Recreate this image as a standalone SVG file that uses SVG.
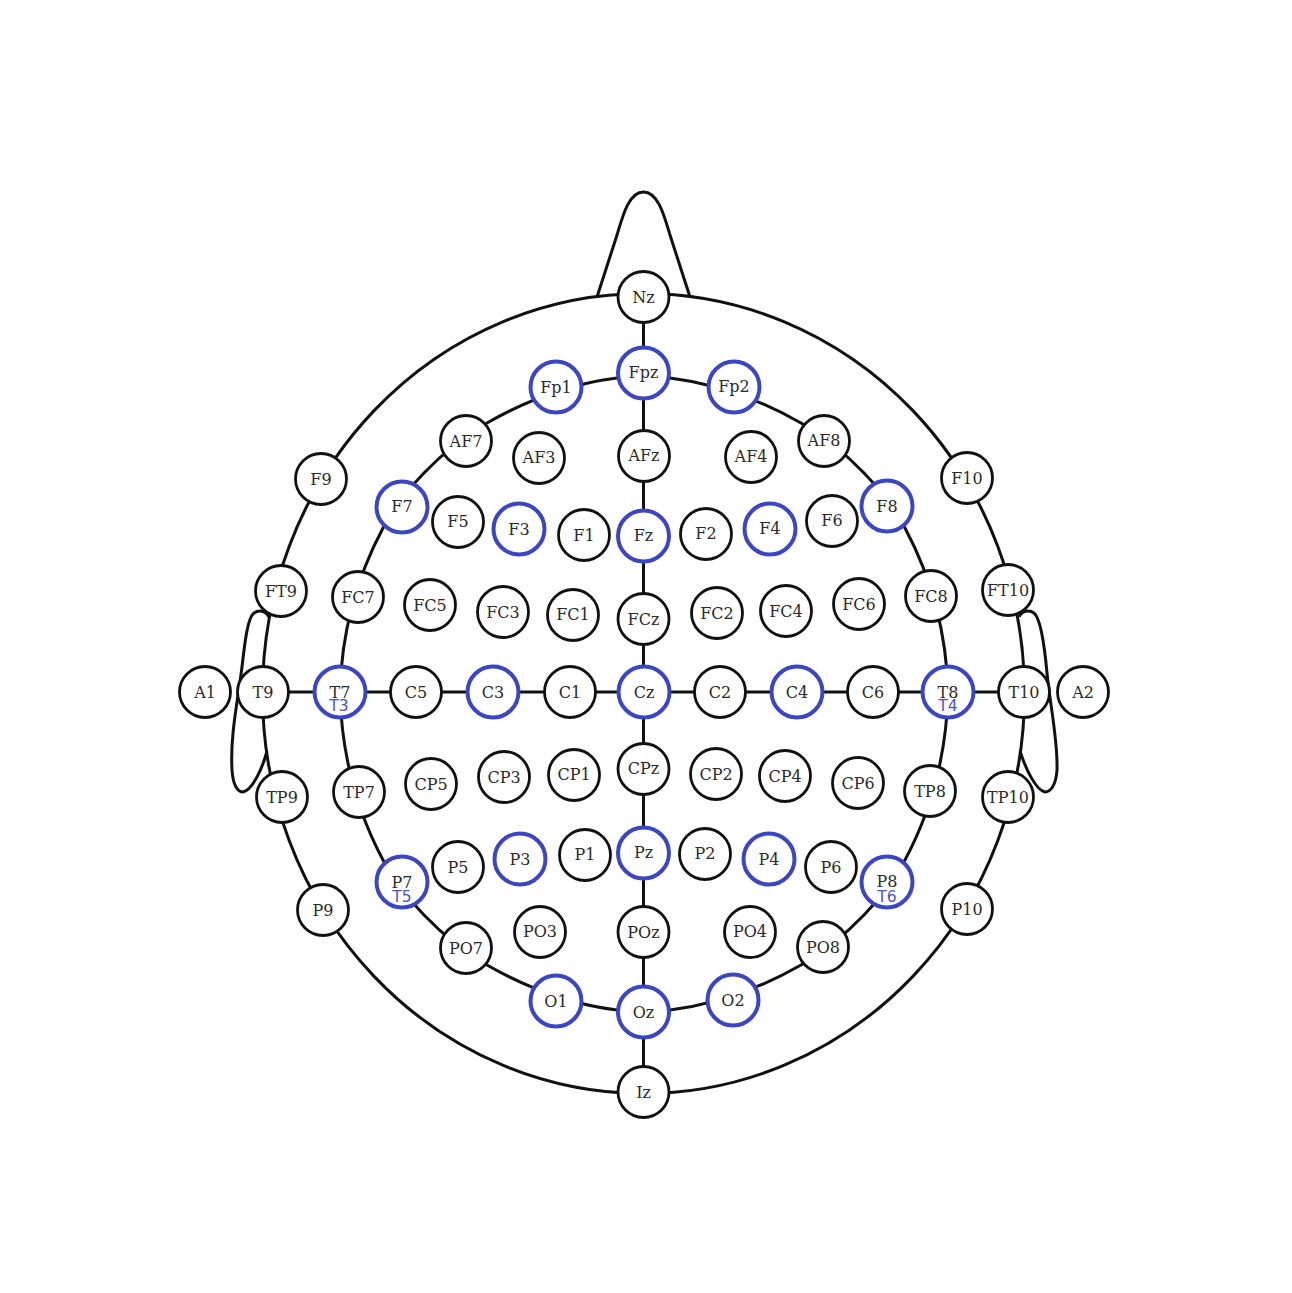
<svg xmlns="http://www.w3.org/2000/svg" width="1292" height="1293" viewBox="0 0 1292 1293">
<style>
.w{fill:none;stroke:#111;stroke-width:3}
circle{fill:#fff}
.k circle{stroke:#111;stroke-width:2.8}
.b circle{stroke:#3c46c0;stroke-width:4}
text{font-family:"DejaVu Serif",serif;font-size:16px;fill:#2a2a2a;text-anchor:middle}
text.s{font-family:"DejaVu Sans",sans-serif;font-size:15.5px;fill:#4a54c8}
</style>
<rect width="1292" height="1293" fill="#fff"/>
<g id="connectors">
<path class="w" d="M597 297C604 275 611 254 617 235C623 215 629 192 643.5 192C658 192 664 215 670 235C676 254 683 275 690 297"/>
<path class="w" d="M269 617C265 610 258 610 254 613C248 617 245 640 242 667C238 700 230 735 232 770C233 786 238 792 243 792C252 790 262 770 267 751"/>
<path class="w" d="M1019 617C1022 610 1030 610 1034 613C1040 618 1044 640 1047 673C1050 705 1058 740 1057 770C1056 786 1050 792 1045 792C1036 790 1026 770 1020 751"/>
<ellipse class="w" cx="643.5" cy="693.5" rx="381" ry="400"/>
<path class="w" d="M340 692C341 650 350 590 383 528C400 495 440 450 487 423C515 407 560 385 617 378L643.5 374.5L670 378C728 385 773 407 801 423C848 450 888 495 905 528C938 590 947 650 948 692"/>
<path class="w" d="M340 692C341 738 350 798 383 860C400 893 440 938 487 965C515 981 560 1003 617 1010L643.5 1013.5L670 1010C728 1003 773 981 801 965C848 938 888 893 905 860C938 798 947 738 948 692"/>
<path class="w" d="M643.5 297V1092M262 692H1024"/>
</g>
<g id="A1" class="k"><circle cx="205" cy="692" r="25.5"/><text x="205" y="698">A1</text></g>
<g id="T9" class="k"><circle cx="263" cy="692" r="25.5"/><text x="263" y="698">T9</text></g>
<g id="T7" class="b"><circle cx="340" cy="692" r="25.5"/><text x="340" y="698">T7</text><text class="s" x="339" y="711">T3</text></g>
<g id="C5" class="k"><circle cx="416" cy="692" r="25.5"/><text x="416" y="698">C5</text></g>
<g id="C3" class="b"><circle cx="493" cy="692" r="25.5"/><text x="493" y="698">C3</text></g>
<g id="C1" class="k"><circle cx="570" cy="692" r="25.5"/><text x="570" y="698">C1</text></g>
<g id="Cz" class="b"><circle cx="644" cy="692" r="25.5"/><text x="644" y="698">Cz</text></g>
<g id="C2" class="k"><circle cx="720" cy="692" r="25.5"/><text x="720" y="698">C2</text></g>
<g id="C4" class="b"><circle cx="797" cy="692" r="25.5"/><text x="797" y="698">C4</text></g>
<g id="C6" class="k"><circle cx="873" cy="692" r="25.5"/><text x="873" y="698">C6</text></g>
<g id="T8" class="b"><circle cx="948" cy="692" r="25.5"/><text x="948" y="698">T8</text><text class="s" x="948" y="711">T4</text></g>
<g id="T10" class="k"><circle cx="1024" cy="692" r="25.5"/><text x="1024" y="698">T10</text></g>
<g id="A2" class="k"><circle cx="1083" cy="692" r="25.5"/><text x="1083" y="698">A2</text></g>
<g id="Nz" class="k"><circle cx="643.5" cy="297" r="25.5"/><text x="643.5" y="303">Nz</text></g>
<g id="Fpz" class="b"><circle cx="643.5" cy="373" r="25.5"/><text x="643.5" y="378">Fpz</text></g>
<g id="Fp1" class="b"><circle cx="556" cy="387" r="25.5"/><text x="556" y="393">Fp1</text></g>
<g id="Fp2" class="b"><circle cx="734" cy="387" r="25.5"/><text x="734" y="392">Fp2</text></g>
<g id="AFz" class="k"><circle cx="644" cy="456" r="25.5"/><text x="644" y="461">AFz</text></g>
<g id="AF7" class="k"><circle cx="466" cy="441" r="25.5"/><text x="466" y="447">AF7</text></g>
<g id="AF3" class="k"><circle cx="539" cy="458" r="25.5"/><text x="539" y="463">AF3</text></g>
<g id="AF4" class="k"><circle cx="751" cy="457" r="25.5"/><text x="751" y="462">AF4</text></g>
<g id="AF8" class="k"><circle cx="824" cy="441" r="25.5"/><text x="824" y="446">AF8</text></g>
<g id="F9" class="k"><circle cx="321" cy="479" r="25.5"/><text x="321" y="485">F9</text></g>
<g id="F10" class="k"><circle cx="967" cy="478" r="25.5"/><text x="967" y="484">F10</text></g>
<g id="F7" class="b"><circle cx="402" cy="507" r="25.5"/><text x="402" y="512">F7</text></g>
<g id="F5" class="k"><circle cx="458" cy="522" r="25.5"/><text x="458" y="527">F5</text></g>
<g id="F3" class="b"><circle cx="519" cy="529" r="25.5"/><text x="519" y="535">F3</text></g>
<g id="F1" class="k"><circle cx="584" cy="535" r="25.5"/><text x="584" y="541">F1</text></g>
<g id="Fz" class="b"><circle cx="643.5" cy="536" r="25.5"/><text x="643.5" y="541">Fz</text></g>
<g id="F2" class="k"><circle cx="706" cy="534" r="25.5"/><text x="706" y="539">F2</text></g>
<g id="F4" class="b"><circle cx="770" cy="529" r="25.5"/><text x="770" y="534">F4</text></g>
<g id="F6" class="k"><circle cx="832" cy="521" r="25.5"/><text x="832" y="526">F6</text></g>
<g id="F8" class="b"><circle cx="887" cy="506" r="25.5"/><text x="887" y="512">F8</text></g>
<g id="FT9" class="k"><circle cx="281" cy="591" r="25.5"/><text x="281" y="597">FT9</text></g>
<g id="FC7" class="k"><circle cx="358" cy="597" r="25.5"/><text x="358" y="603">FC7</text></g>
<g id="FC5" class="k"><circle cx="430" cy="605" r="25.5"/><text x="430" y="611">FC5</text></g>
<g id="FC3" class="k"><circle cx="503" cy="612" r="25.5"/><text x="503" y="618">FC3</text></g>
<g id="FC1" class="k"><circle cx="573" cy="615" r="25.5"/><text x="573" y="620">FC1</text></g>
<g id="FCz" class="k"><circle cx="643.5" cy="619" r="25.5"/><text x="643.5" y="625">FCz</text></g>
<g id="FC2" class="k"><circle cx="717" cy="613" r="25.5"/><text x="717" y="619">FC2</text></g>
<g id="FC4" class="k"><circle cx="786" cy="611" r="25.5"/><text x="786" y="617">FC4</text></g>
<g id="FC6" class="k"><circle cx="859" cy="604" r="25.5"/><text x="859" y="610">FC6</text></g>
<g id="FC8" class="k"><circle cx="931" cy="596" r="25.5"/><text x="931" y="602">FC8</text></g>
<g id="FT10" class="k"><circle cx="1008" cy="590" r="25.5"/><text x="1008" y="596">FT10</text></g>
<g id="TP9" class="k"><circle cx="282" cy="797" r="25.5"/><text x="282" y="803">TP9</text></g>
<g id="TP7" class="k"><circle cx="359" cy="792" r="25.5"/><text x="359" y="798">TP7</text></g>
<g id="CP5" class="k"><circle cx="431" cy="784" r="25.5"/><text x="431" y="790">CP5</text></g>
<g id="CP3" class="k"><circle cx="504" cy="777" r="25.5"/><text x="504" y="783">CP3</text></g>
<g id="CP1" class="k"><circle cx="574" cy="775" r="25.5"/><text x="574" y="780">CP1</text></g>
<g id="CPz" class="k"><circle cx="643.5" cy="769" r="25.5"/><text x="643.5" y="774">CPz</text></g>
<g id="CP2" class="k"><circle cx="716" cy="774" r="25.5"/><text x="716" y="780">CP2</text></g>
<g id="CP4" class="k"><circle cx="785" cy="776" r="25.5"/><text x="785" y="782">CP4</text></g>
<g id="CP6" class="k"><circle cx="858" cy="783" r="25.5"/><text x="858" y="789">CP6</text></g>
<g id="TP8" class="k"><circle cx="930" cy="791" r="25.5"/><text x="930" y="797">TP8</text></g>
<g id="TP10" class="k"><circle cx="1008" cy="797" r="25.5"/><text x="1008" y="803">TP10</text></g>
<g id="P9" class="k"><circle cx="323" cy="910" r="25.5"/><text x="323" y="916">P9</text></g>
<g id="P7" class="b"><circle cx="402" cy="882" r="25.5"/><text x="402" y="888">P7</text><text class="s" x="402" y="902">T5</text></g>
<g id="P5" class="k"><circle cx="458" cy="867" r="25.5"/><text x="458" y="873">P5</text></g>
<g id="P3" class="b"><circle cx="520" cy="859" r="25.5"/><text x="520" y="865">P3</text></g>
<g id="P1" class="k"><circle cx="585" cy="855" r="25.5"/><text x="585" y="860">P1</text></g>
<g id="Pz" class="b"><circle cx="643.5" cy="853" r="25.5"/><text x="643.5" y="858">Pz</text></g>
<g id="P2" class="k"><circle cx="705" cy="854" r="25.5"/><text x="705" y="859">P2</text></g>
<g id="P4" class="b"><circle cx="769" cy="859" r="25.5"/><text x="769" y="865">P4</text></g>
<g id="P6" class="k"><circle cx="831" cy="867" r="25.5"/><text x="831" y="873">P6</text></g>
<g id="P8" class="b"><circle cx="887" cy="882" r="25.5"/><text x="887" y="887">P8</text><text class="s" x="887" y="902">T6</text></g>
<g id="P10" class="k"><circle cx="967" cy="909" r="25.5"/><text x="967" y="915">P10</text></g>
<g id="PO7" class="k"><circle cx="466" cy="948" r="25.5"/><text x="466" y="954">PO7</text></g>
<g id="PO3" class="k"><circle cx="540" cy="932" r="25.5"/><text x="540" y="937">PO3</text></g>
<g id="POz" class="k"><circle cx="643.5" cy="932" r="25.5"/><text x="643.5" y="938">POz</text></g>
<g id="PO4" class="k"><circle cx="750" cy="932" r="25.5"/><text x="750" y="937">PO4</text></g>
<g id="PO8" class="k"><circle cx="823" cy="947" r="25.5"/><text x="823" y="953">PO8</text></g>
<g id="O1" class="b"><circle cx="556" cy="1001" r="25.5"/><text x="556" y="1007">O1</text></g>
<g id="Oz" class="b"><circle cx="643.5" cy="1012" r="25.5"/><text x="643.5" y="1018">Oz</text></g>
<g id="O2" class="b"><circle cx="733" cy="1000" r="25.5"/><text x="733" y="1006">O2</text></g>
<g id="Iz" class="k"><circle cx="643.5" cy="1092" r="25.5"/><text x="643.5" y="1098">Iz</text></g>
</svg>
